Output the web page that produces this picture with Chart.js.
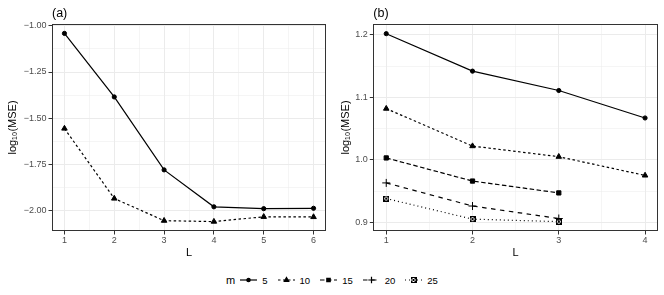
<!DOCTYPE html>
<html>
<head>
<meta charset="utf-8">
<script src="https://cdn.jsdelivr.net/npm/chart.js@4"></script>
<style>
  body { margin: 0; background: #fff; font-family: "Liberation Sans", Arial, sans-serif; }
  #wrap { position: relative; width: 664px; height: 295px; }
  #ca { position: absolute; left: 0; top: 0; }
  #cb { position: absolute; left: 332px; top: 0; }
  #legend { position: absolute; left: 0; top: 270px; width: 664px; height: 20px;
    display: flex; justify-content: center; align-items: center; font-size: 9.5px; color: #000; }
  #legend .ttl { font-size: 11px; margin-right: 5px; }
  #legend .item { display: flex; align-items: center; margin-right: 10px; }
  #legend .item:last-child { margin-right: 0; }
  #legend .item span { margin-left: 5px; }
</style>
</head>
<body>
<div id="wrap">
  <canvas id="ca" width="332" height="262"></canvas>
  <canvas id="cb" width="332" height="262"></canvas>
  <div id="legend"></div>
</div>
<script>
// panel (a)
const xA = [1, 2, 3, 4, 5, 6];
const aM5 = [-1.041, -1.385, -1.780, -1.980, -1.990, -1.988];
const aM10 = [-1.556, -1.935, -2.055, -2.060, -2.034, -2.035];

// panel (b)
const xB = [1, 2, 3, 4];
const bM5 = [1.202, 1.142, 1.111, 1.067];
const bM10 = [1.082, 1.022, 1.005, 0.975];
const bM15 = [1.003, 0.966, 0.947];
const bM20 = [0.963, 0.926, 0.906];
const bM25 = [0.938, 0.905, 0.901];

const mLabels = ['5', '10', '15', '20', '25'];

const xTicksA = [1, 2, 3, 4, 5, 6];
const xMinorA = [1.5, 2.5, 3.5, 4.5, 5.5];
const yTicksA = [-2.00, -1.75, -1.50, -1.25, -1.00];
const yMinorA = [-1.875, -1.625, -1.375, -1.125];

const xTicksB = [1, 2, 3, 4];
const xMinorB = [1.5, 2.5, 3.5];
const yTicksB = [0.9, 1.0, 1.1, 1.2];
const yMinorB = [0.95, 1.05, 1.15];

// square with a cross (ggplot shape 7)
function squareCross() {
  const c = document.createElement('canvas');
  c.width = 6; c.height = 6;
  const g = c.getContext('2d');
  g.strokeStyle = '#000';
  g.lineWidth = 1;
  g.strokeRect(0.5, 0.5, 5, 5);
  g.beginPath();
  g.moveTo(0.5, 0.5); g.lineTo(5.5, 5.5);
  g.moveTo(5.5, 0.5); g.lineTo(0.5, 5.5);
  g.stroke();
  return c;
}

const styles = [
  { dash: [], point: 'circle', r: 2.1 },
  { dash: [2.5, 2.5], point: 'triangle', r: 3.2 },
  { dash: [4.5, 2.5], point: 'rect', r: 3 },
  { dash: [4.5, 4.5], point: 'cross', r: 4 },
  { dash: [1, 3], point: squareCross(), r: 3 },
];

function series(xs, ys, i) {
  const s = styles[i];
  return {
    label: mLabels[i],
    data: ys.map((y, k) => ({ x: xs[k], y: y })),
    showLine: true,
    borderColor: '#000',
    backgroundColor: '#000',
    borderWidth: 1.2,
    borderDash: s.dash,
    pointStyle: s.point,
    pointRadius: s.r,
    pointBorderWidth: 1,
    pointHoverRadius: s.r,
  };
}

const minus = v => v.replace('-', '\u2212');

const panelBorder = {
  id: 'panelBorder',
  afterDraw(chart) {
    const a = chart.chartArea, ctx = chart.ctx;
    ctx.save();
    ctx.strokeStyle = '#333333';
    ctx.lineWidth = 1;
    ctx.strokeRect(Math.round(a.left) + 0.5, Math.round(a.top) + 0.5,
      Math.round(a.right - a.left) - 1, Math.round(a.bottom - a.top) - 1);
    ctx.restore();
  }
};

function axis(major, minor, min, max, fmt, title, isX, fitSize, titlePad) {
  const all = major.concat(minor);
  const isMajor = v => major.some(m => Math.abs(m - v) < 1e-9);
  return {
    type: 'linear',
    min: min,
    max: max,
    afterBuildTicks: s => { s.ticks = all.map(v => ({ value: v })); },
    afterFit: s => { if (isX) s.height = fitSize; else s.width = fitSize; },
    border: { display: false },
    grid: {
      color: '#ebebeb',
      lineWidth: c => (c.tick && isMajor(c.tick.value)) ? 1 : 0.5,
      tickColor: c => (c.tick && isMajor(c.tick.value)) ? '#333333' : 'rgba(0,0,0,0)',
      tickLength: 3.5,
      drawTicks: true,
    },
    ticks: {
      autoSkip: false,
      maxRotation: 0,
      color: '#4d4d4d',
      font: { family: '"Liberation Sans", Arial, sans-serif', size: 9 },
      padding: isX ? 1 : 2,
      callback: v => isMajor(v) ? fmt(v) : '',
    },
    title: {
      display: true,
      text: title,
      color: '#000',
      font: { family: '"Liberation Sans", Arial, sans-serif', size: 11 },
      padding: titlePad,
    },
  };
}

function makeChart(id, datasets, label, xs, ys, padRight) {
  return new Chart(document.getElementById(id), {
    type: 'scatter',
    data: { datasets: datasets },
    options: {
      responsive: false,
      animation: false,
      layout: { padding: { left: 0, right: padRight, top: 0, bottom: 0 } },
      plugins: {
        legend: { display: false },
        tooltip: { enabled: false },
        title: {
          display: true,
          text: label,
          align: 'start',
          fullSize: false,
          color: '#000',
          font: { family: '"Liberation Sans", Arial, sans-serif', size: 12.5, weight: 'normal' },
          padding: { top: 6, bottom: 3 },
        },
      },
      scales: { x: xs, y: ys },
    },
    plugins: [panelBorder],
  });
}

makeChart('ca', [series(xA, aM5, 0), series(xA, aM10, 1)], '(a)',
  axis(xTicksA, xMinorA, 0.75, 6.25, v => String(v), 'L', true, 31, { top: 0, bottom: 2.5 }),
  axis(yTicksA, yMinorA, -2.111, -0.990, v => minus(v.toFixed(2)), 'log\u2081\u2080(MSE)', false, 52, { top: 6.4, bottom: 0 }),
  6);

makeChart('cb', [series(xB, bM5, 0), series(xB, bM10, 1), series(xB, bM15, 2),
                 series(xB, bM20, 3), series(xB, bM25, 4)], '(b)',
  axis(xTicksB, xMinorB, 0.85, 4.15, v => String(v), 'L', true, 31, { top: 0, bottom: 2.5 }),
  axis(yTicksB, yMinorB, 0.886, 1.2175, v => v.toFixed(1), 'log\u2081\u2080(MSE)', false, 41.3, { top: 6.9, bottom: 0 }),
  6);

// legend
const legend = document.getElementById('legend');
const t = document.createElement('div');
t.className = 'ttl';
t.textContent = 'm';
legend.appendChild(t);
mLabels.forEach((lab, i) => {
  const s = styles[i];
  const item = document.createElement('div');
  item.className = 'item';
  const c = document.createElement('canvas');
  c.width = 17; c.height = 12;
  const g = c.getContext('2d');
  g.strokeStyle = '#000';
  g.fillStyle = '#000';
  g.lineWidth = 1.2;
  g.setLineDash(s.dash);
  g.beginPath(); g.moveTo(0, 6); g.lineTo(17, 6); g.stroke();
  g.setLineDash([]);
  Chart.helpers.drawPoint(g, { pointStyle: s.point, radius: s.r * 0.8, borderWidth: 1 }, 8.5, 6);
  item.appendChild(c);
  const sp = document.createElement('span');
  sp.textContent = lab;
  item.appendChild(sp);
  legend.appendChild(item);
});
</script>
</body>
</html>
